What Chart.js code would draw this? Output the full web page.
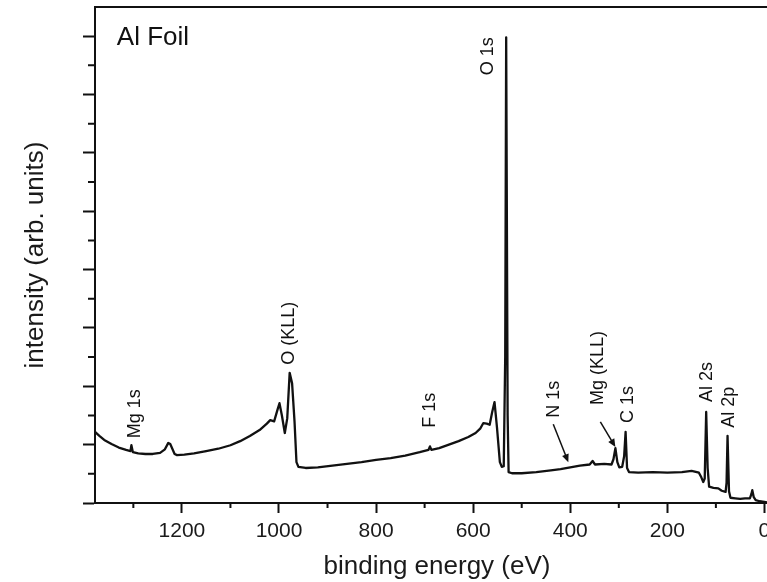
<!DOCTYPE html>
<html lang="en">
<head>
<meta charset="UTF-8">
<title>Al Foil - XPS survey</title>
<script src="https://cdn.jsdelivr.net/npm/chart.js"></script>
<style>
    body { margin: 0; padding: 0; background: #fff; overflow: hidden; }
    .wrap { width: 780px; height: 582px; }
</style>
</head>
<body>
<div class="wrap"><canvas id="xpsChart" width="780" height="582"></canvas></div>
<script>
// survey spectrum, values
var energy = [1379, 1370, 1360, 1345, 1330, 1315, 1306, 1304, 1301, 1290, 1275, 1260, 1245, 1235, 1228, 1224, 1215, 1210,
    1195, 1175, 1150, 1125, 1100, 1080, 1060, 1040, 1025, 1018, 1010, 1003, 999, 994, 988, 983, 978, 973, 968, 964, 960,
    945, 920, 890, 860, 830, 800, 770, 740, 710, 692, 689, 686, 670, 650, 630, 610, 595, 585, 579, 572, 566, 561, 556,
    551, 545, 541, 537, 534, 532, 529, 527, 520, 500, 470, 440, 420, 400, 380, 360, 354, 349, 330, 315, 311, 307, 303,
    299, 293, 289, 286, 283, 279, 260, 230, 200, 170, 150, 135, 130, 126, 123, 120, 117, 114, 105, 95, 88, 80, 78, 76,
    73, 70, 60, 50, 40, 30, 27, 25, 22, 18, 10, 0, -5];
var intensity = [1.22, 1.15, 1.08, 1.01, 0.95, 0.91, 0.89, 0.99, 0.87, 0.85, 0.84, 0.84, 0.86, 0.92, 1.03, 1.01, 0.84, 0.82,
    0.83, 0.85, 0.89, 0.93, 0.99, 1.06, 1.15, 1.25, 1.36, 1.42, 1.40, 1.60, 1.71, 1.50, 1.20, 1.45, 2.23, 2.05, 1.40, 0.70, 0.62,
    0.60, 0.61, 0.64, 0.67, 0.70, 0.74, 0.77, 0.81, 0.87, 0.91, 0.97, 0.91, 0.94, 1.00, 1.06, 1.13, 1.20, 1.28, 1.37, 1.36,
    1.34, 1.55, 1.73, 1.30, 0.70, 0.62, 0.63, 2.5, 7.98, 1.5, 0.53, 0.51, 0.51, 0.53, 0.56, 0.58, 0.61, 0.64, 0.66, 0.72,
    0.66, 0.67, 0.66, 0.75, 0.94, 0.70, 0.61, 0.62, 0.80, 1.22, 0.60, 0.53, 0.52, 0.53, 0.52, 0.53, 0.55, 0.52, 0.44, 0.36,
    0.42, 1.56, 0.60, 0.28, 0.26, 0.25, 0.21, 0.19, 0.35, 1.15, 0.20, 0.09, 0.08, 0.07, 0.08, 0.08, 0.15, 0.22, 0.10, 0.05,
    0.03, 0.02, 0.01];

var xTicks = [1200, 1000, 800, 600, 400, 200, 0];
var xMinorTicks = [1300, 1100, 900, 700, 500, 300, 100];
var yTicks = [0, 1, 2, 3, 4, 5, 6, 7, 8];
var yMinorTicks = [0.5, 1.5, 2.5, 3.5, 4.5, 5.5, 6.5, 7.5];

// peak labels: energy of the label and intensity where the text starts
var peakNames = ['Mg 1s', 'O (KLL)', 'F 1s', 'O 1s', 'N 1s', 'Mg (KLL)', 'C 1s', 'Al 2s', 'Al 2p'];
var peakEnergy = [1297, 979, 689, 569, 433, 342, 280, 118, 72];
var peakBase = [1.11, 2.37, 1.29, 7.33, 1.46, 1.68, 1.37, 1.73, 1.29];

// arrows for N 1s and Mg (KLL)
var arrowFromE = [435, 338];
var arrowFromI = [1.35, 1.39];
var arrowToE = [404, 307];
var arrowToI = [0.70, 0.96];

var sampleName = 'Al Foil';
var sampleE = 1334;
var sampleI = 7.85;

var ink = '#111';
var textFont = '"Liberation Sans", Arial, sans-serif';

var points = energy.map(function (e, i) { return { x: e, y: intensity[i] }; });

var extras = {
    id: 'extras',
    afterDraw: function (chart) {
        var ctx = chart.ctx;
        var xs = chart.scales.x, ys = chart.scales.y;
        var area = chart.chartArea;
        ctx.save();
        ctx.strokeStyle = ink;
        ctx.lineWidth = 2;

        // top and right frame
        ctx.beginPath();
        ctx.moveTo(area.left, area.top);
        ctx.lineTo(area.right, area.top);
        ctx.lineTo(area.right, area.bottom);
        ctx.stroke();

        // minor ticks
        ctx.beginPath();
        xMinorTicks.forEach(function (v) {
            var px = xs.getPixelForValue(v);
            ctx.moveTo(px, area.bottom);
            ctx.lineTo(px, area.bottom + 5);
        });
        yMinorTicks.forEach(function (v) {
            var py = ys.getPixelForValue(v);
            ctx.moveTo(area.left, py);
            ctx.lineTo(area.left - 7, py);
        });
        ctx.stroke();

        // peak labels
        ctx.fillStyle = ink;
        ctx.font = '18px ' + textFont;
        ctx.textAlign = 'left';
        ctx.textBaseline = 'middle';
        peakNames.forEach(function (name, i) {
            ctx.save();
            ctx.translate(xs.getPixelForValue(peakEnergy[i]), ys.getPixelForValue(peakBase[i]));
            ctx.rotate(-Math.PI / 2);
            ctx.fillText(name, 0, 0);
            ctx.restore();
        });

        // arrows
        ctx.lineWidth = 1.5;
        arrowFromE.forEach(function (e, i) {
            var x1 = xs.getPixelForValue(e), y1 = ys.getPixelForValue(arrowFromI[i]);
            var x2 = xs.getPixelForValue(arrowToE[i]), y2 = ys.getPixelForValue(arrowToI[i]);
            var a = Math.atan2(y2 - y1, x2 - x1);
            ctx.beginPath();
            ctx.moveTo(x1, y1);
            ctx.lineTo(x2 - 6 * Math.cos(a), y2 - 6 * Math.sin(a));
            ctx.stroke();
            ctx.beginPath();
            ctx.moveTo(x2, y2);
            ctx.lineTo(x2 - 8 * Math.cos(a) + 3.5 * Math.sin(a), y2 - 8 * Math.sin(a) - 3.5 * Math.cos(a));
            ctx.lineTo(x2 - 8 * Math.cos(a) - 3.5 * Math.sin(a), y2 - 8 * Math.sin(a) + 3.5 * Math.cos(a));
            ctx.closePath();
            ctx.fill();
        });

        // sample name
        ctx.font = '26px ' + textFont;
        ctx.textBaseline = 'alphabetic';
        ctx.fillText(sampleName, xs.getPixelForValue(sampleE), ys.getPixelForValue(sampleI));
        ctx.restore();
    }
};

new Chart(document.getElementById('xpsChart'), {
    type: 'line',
    data: {
        datasets: [{
            data: points,
            borderColor: ink,
            borderWidth: 2.3,
            borderJoinStyle: 'round',
            pointRadius: 0,
            tension: 0,
            fill: false
        }]
    },
    options: {
        responsive: false,
        animation: false,
        devicePixelRatio: 1,
        layout: { padding: { top: 7, right: 1, bottom: 0, left: 0 } },
        plugins: { legend: { display: false }, tooltip: { enabled: false } },
        scales: {
            x: {
                type: 'linear',
                reverse: true,
                min: -30,
                max: 1379,
                afterBuildTicks: function (s) { s.ticks = xTicks.map(function (v) { return { value: v }; }); },
                afterFit: function (s) { s.height = 79; },
                grid: { drawOnChartArea: false, tickLength: 10, tickWidth: 2, tickColor: ink },
                border: { color: ink, width: 2 },
                ticks: {
                    color: '#1a1a1a',
                    padding: 6,
                    font: { family: textFont, size: 21 },
                    callback: function (v) { return String(v); }
                },
                title: {
                    display: true,
                    text: 'binding energy (eV)',
                    color: '#1a1a1a',
                    padding: { top: 0, bottom: 0 },
                    font: { family: textFont, size: 26 }
                }
            },
            y: {
                min: 0,
                max: 8.5,
                afterBuildTicks: function (s) { s.ticks = yTicks.map(function (v) { return { value: v }; }); },
                afterFit: function (s) { s.width = 95; },
                grid: { drawOnChartArea: false, tickLength: 12, tickWidth: 2, tickColor: ink },
                border: { color: ink, width: 2 },
                ticks: { display: false },
                title: {
                    display: true,
                    text: 'intensity (arb. units)',
                    color: '#1a1a1a',
                    padding: { top: 20, bottom: 0 },
                    font: { family: textFont, size: 26 }
                }
            }
        }
    },
    plugins: [extras]
});
</script>
</body>
</html>
